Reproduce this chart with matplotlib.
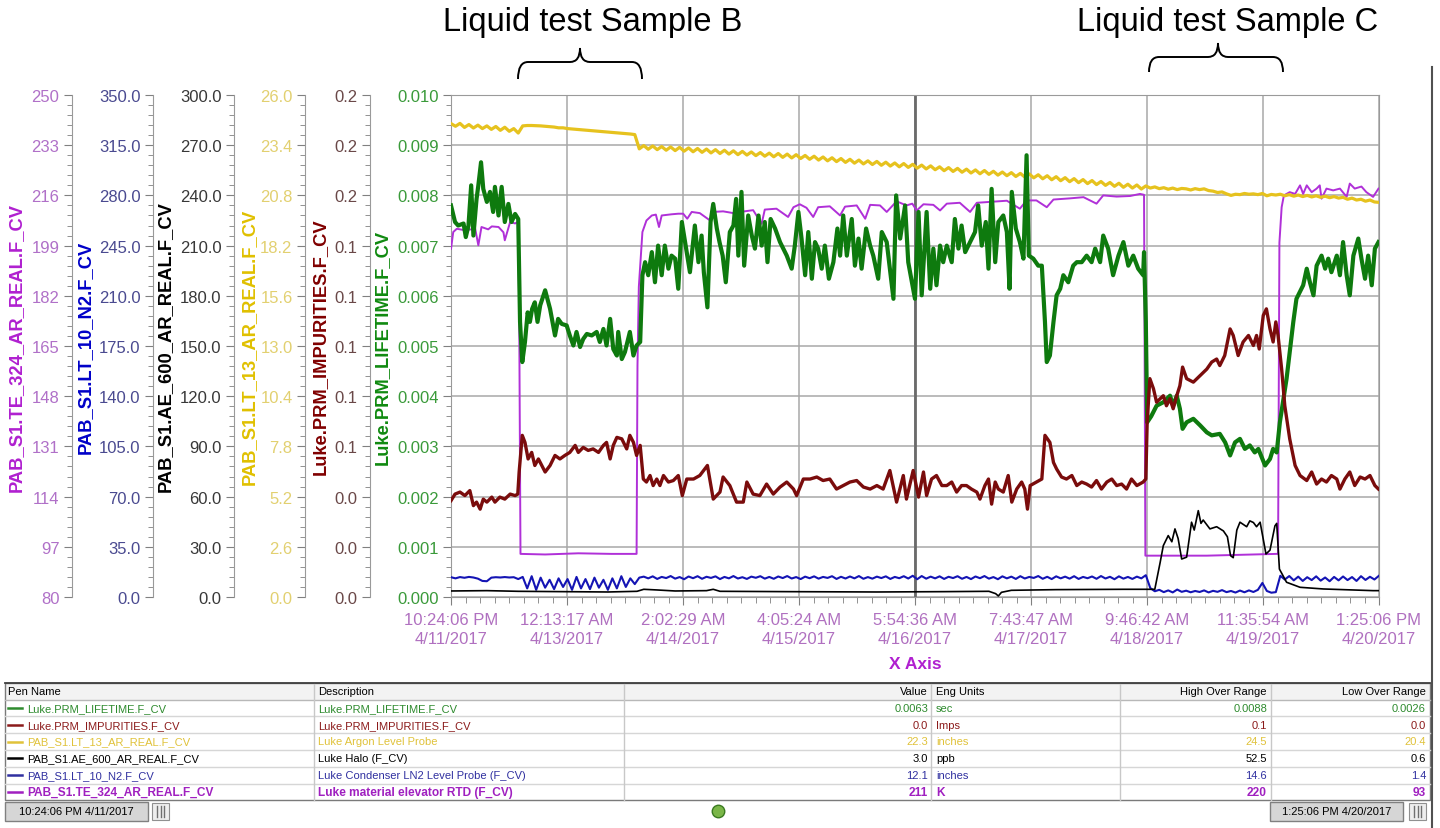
import numpy as np
import matplotlib.pyplot as plt
from matplotlib.ticker import LinearLocator, FormatStrFormatter, AutoMinorLocator
from matplotlib.path import Path
from matplotlib.patches import PathPatch, Rectangle
from matplotlib.lines import Line2D

plt.rcParams['font.family'] = ['Liberation Sans', 'DejaVu Sans']

# ---- data (time in hours since 10:24:06 PM 4/11/2017) ----
T_END = 207.0167
time_labels = ["10:24:06 PM\n4/11/2017", "12:13:17 AM\n4/13/2017", "2:02:29 AM\n4/14/2017",
               "4:05:24 AM\n4/15/2017", "5:54:36 AM\n4/16/2017", "7:43:47 AM\n4/17/2017",
               "9:46:42 AM\n4/18/2017", "11:35:54 AM\n4/19/2017", "1:25:06 PM\n4/20/2017"]

# Luke.PRM_LIFETIME (ms)
lifetime_pts = [
    (0, 7.80), (0.9, 7.47), (1.6, 7.40), (2.8, 7.44), (3.3, 7.17), (3.9, 7.40), (4.5, 8.20), (5.0, 7.20),
    (5.7, 7.93), (6.1, 8.20), (6.7, 8.66), (7.2, 8.13), (8.0, 7.87), (8.7, 8.07), (9.4, 7.67), (9.8, 8.17),
    (10.6, 7.60), (11.3, 8.17), (12.0, 7.47), (12.8, 7.83), (13.5, 7.47), (14.3, 7.63), (15.0, 7.53),
    (15.4, 5.48), (15.9, 4.68), (16.5, 5.08), (17.1, 5.67), (17.6, 5.48), (18.1, 5.74), (18.7, 5.87),
    (19.3, 5.48), (19.9, 5.81), (21.0, 6.11), (22.1, 5.74), (23.2, 5.21), (23.9, 5.54), (24.7, 5.44),
    (25.8, 5.41), (26.5, 5.21), (27.3, 5.01), (28.0, 5.28), (28.8, 4.98), (29.5, 5.14), (30.3, 5.24),
    (31.4, 5.21), (32.5, 5.28), (33.2, 5.08), (34.0, 5.34), (34.7, 5.01), (35.5, 5.54), (36.2, 4.94),
    (37.0, 4.81), (37.3, 5.28), (38.1, 4.74), (38.8, 4.88), (39.9, 5.28), (40.7, 4.81), (41.4, 5.01),
    (42.2, 5.08), (42.7, 6.41), (43.3, 6.67), (44.0, 6.41), (44.8, 6.87), (45.5, 6.27), (46.2, 7.00),
    (47.0, 6.41), (47.7, 7.00), (48.5, 6.54), (49.2, 6.80), (50.0, 6.74), (50.7, 6.14), (51.5, 7.47),
    (53.3, 6.47), (54.4, 7.40), (55.2, 6.67), (55.9, 7.20), (56.4, 6.47), (57.2, 5.77), (57.9, 7.47),
    (58.5, 7.83), (59.3, 7.34), (59.9, 7.07), (60.6, 6.80), (61.3, 6.27), (62.2, 7.27), (63.0, 7.40),
    (63.6, 7.93), (64.1, 6.80), (64.8, 8.07), (65.4, 6.60), (66.3, 7.60), (67.1, 7.20), (67.8, 6.94),
    (68.6, 7.60), (69.3, 7.00), (70.0, 7.47), (70.6, 6.67), (71.3, 7.53), (72.3, 7.34), (73.4, 7.07),
    (74.9, 6.80), (76.0, 6.54), (76.7, 7.00), (77.5, 7.67), (78.2, 7.14), (79.0, 6.41), (79.7, 7.27),
    (80.5, 6.34), (81.2, 7.07), (81.9, 6.94), (82.7, 6.54), (83.4, 7.00), (84.3, 6.34), (85.3, 6.67),
    (86.2, 7.34), (86.8, 6.80), (87.5, 7.60), (88.3, 6.80), (89.4, 7.53), (90.1, 6.60), (90.9, 7.14),
    (91.6, 6.54), (92.6, 7.34), (93.5, 7.00), (94.2, 6.80), (95.3, 6.34), (96.1, 7.27), (97.2, 7.07),
    (98.7, 5.94), (99.3, 8.00), (100.2, 7.14), (101.3, 7.80), (102.0, 6.67), (103.5, 5.94), (104.3, 7.67),
    (105.0, 6.01), (106.1, 7.67), (106.9, 6.14), (107.6, 6.94), (108.3, 6.21), (109.1, 7.00), (109.8, 6.67),
    (110.6, 7.00), (111.7, 6.67), (112.4, 7.53), (113.2, 6.94), (113.9, 7.40), (114.7, 6.87), (115.8, 7.07),
    (116.9, 7.27), (117.6, 7.80), (118.4, 7.00), (119.3, 7.47), (119.9, 6.54), (120.6, 8.13), (121.4, 6.67),
    (122.1, 7.47), (123.2, 7.60), (124.0, 7.27), (124.6, 6.14), (125.1, 8.07), (126.0, 7.34), (126.9, 7.07),
    (127.7, 6.74), (128.4, 8.80), (128.9, 6.80), (129.9, 6.74), (131.0, 6.60), (131.8, 6.60), (132.5, 5.48),
    (132.9, 4.68), (133.6, 4.81), (134.4, 5.48), (135.1, 6.01), (135.9, 6.14), (136.6, 6.41), (137.7, 6.27),
    (138.8, 6.60), (139.6, 6.67), (140.7, 6.67), (141.8, 6.80), (142.9, 6.67), (143.7, 6.94), (144.8, 6.67),
    (145.5, 7.20), (146.6, 6.94), (147.7, 6.41), (148.9, 6.80), (150.0, 7.07), (151.1, 6.60), (152.2, 6.80),
    (153.3, 6.54), (154.4, 6.41), (154.6, 6.87), (155.0, 5.48), (155.3, 3.48), (156.2, 3.60), (157.4, 3.81),
    (158.9, 3.88), (160.4, 4.01), (161.1, 3.81), (161.9, 4.01), (162.6, 3.75), (163.2, 3.35), (164.1, 3.48),
    (165.6, 3.55), (167.1, 3.42), (168.6, 3.28), (169.7, 3.22), (171.5, 3.25), (172.7, 3.08), (173.8, 2.82),
    (174.9, 3.08), (176.0, 3.15), (177.1, 2.95), (178.2, 3.02), (179.3, 2.88), (180.1, 2.95), (181.6, 2.62),
    (182.7, 2.75), (183.4, 2.95), (184.2, 2.88), (184.9, 3.48), (186.4, 4.35), (187.9, 5.48), (188.6, 5.94),
    (190.1, 6.21), (190.9, 6.54), (191.6, 6.27), (192.4, 6.01), (193.1, 6.60), (194.2, 6.80), (195.0, 6.54),
    (195.7, 6.74), (196.4, 6.47), (197.6, 6.80), (198.3, 6.41), (199.0, 7.07), (199.8, 6.41), (200.5, 6.01),
    (201.3, 6.80), (202.4, 7.14), (203.1, 6.74), (203.9, 6.34), (204.6, 6.80), (205.4, 6.21), (206.1, 6.94),
    (206.9, 7.07)]

# Luke.PRM_IMPURITIES (imps)
impurity_pts = [
    (0, .0384), (0.9, .0410), (2.0, .0418), (3.1, .0404), (4.2, .0424), (5.0, .0364), (5.7, .0378),
    (6.5, .0350), (7.2, .0390), (8.0, .0378), (9.1, .0398), (9.8, .0378), (10.9, .0398), (12.0, .0390),
    (13.2, .0410), (14.3, .0404), (14.9, .0410), (15.2, .0498), (15.9, .0644), (16.5, .0616), (17.2, .0550),
    (18.0, .0576), (18.7, .0524), (19.5, .0550), (21.0, .0498), (22.1, .0524), (23.2, .0564), (24.3, .0550),
    (25.4, .0564), (26.5, .0576), (27.7, .0604), (28.4, .0576), (29.5, .0596), (30.6, .0584), (31.7, .0590),
    (32.9, .0576), (34.0, .0604), (34.7, .0616), (35.5, .0550), (36.2, .0604), (37.0, .0636), (38.1, .0630),
    (39.2, .0590), (39.9, .0644), (40.7, .0616), (41.4, .0564), (42.2, .0604), (42.9, .0470), (43.6, .0458),
    (44.4, .0484), (45.1, .0444), (45.9, .0470), (46.6, .0444), (47.4, .0484), (48.5, .0458), (49.6, .0464),
    (50.7, .0484), (51.6, .0404), (52.6, .0470), (54.1, .0470), (55.5, .0484), (57.2, .0524), (58.5, .0390),
    (60.0, .0418), (60.7, .0478), (62.2, .0444), (63.7, .0378), (65.2, .0378), (66.0, .0458), (67.4, .0410),
    (68.9, .0404), (70.4, .0450), (71.9, .0410), (73.4, .0438), (74.9, .0458), (76.4, .0430), (77.1, .0404),
    (78.6, .0470), (80.1, .0470), (81.6, .0478), (83.0, .0464), (84.5, .0470), (86.0, .0430), (87.5, .0444),
    (89.0, .0458), (90.5, .0464), (92.0, .0438), (93.5, .0430), (95.0, .0444), (96.4, .0430), (97.9, .0504),
    (99.4, .0378), (100.9, .0484), (101.6, .0390), (103.1, .0504), (104.3, .0398), (105.4, .0498),
    (106.1, .0404), (107.2, .0470), (108.3, .0484), (109.5, .0444), (110.6, .0444), (111.7, .0458),
    (112.8, .0418), (113.9, .0444), (115.0, .0444), (116.1, .0430), (117.3, .0418), (118.0, .0390),
    (119.1, .0444), (119.9, .0470), (120.6, .0370), (121.4, .0458), (122.1, .0430), (123.2, .0418),
    (124.3, .0484), (125.1, .0378), (126.2, .0430), (127.3, .0458), (128.0, .0430), (128.6, .0350),
    (129.2, .0444), (130.6, .0458), (131.8, .0470), (132.5, .0644), (133.6, .0616), (134.4, .0536),
    (135.1, .0510), (136.2, .0478), (137.3, .0470), (138.5, .0484), (139.6, .0444), (140.7, .0458),
    (141.8, .0450), (142.9, .0438), (144.0, .0464), (145.1, .0430), (146.3, .0458), (147.4, .0470),
    (148.5, .0444), (149.6, .0450), (150.7, .0430), (151.8, .0470), (153.0, .0444), (154.4, .0458),
    (155.0, .0470), (155.3, .0696), (155.9, .0870), (156.7, .0830), (157.4, .0776), (158.2, .0790),
    (158.9, .0802), (159.6, .0762), (160.4, .0790), (161.1, .0750), (161.9, .0802), (162.6, .0842),
    (163.2, .0916), (164.1, .0870), (165.6, .0856), (167.1, .0882), (168.6, .0908), (169.7, .0936),
    (170.8, .0948), (171.5, .0922), (172.6, .0962), (173.8, .1068), (174.5, .1042), (175.6, .0962),
    (176.7, .1016), (177.9, .1042), (179.0, .1002), (179.7, .1042), (180.3, .0988), (181.2, .1122),
    (181.9, .1148), (182.7, .1068), (183.4, .1016), (184.0, .1096), (184.5, .1042), (185.3, .0908),
    (186.0, .0762), (187.1, .0630), (188.3, .0524), (189.4, .0484), (190.9, .0464), (192.0, .0498),
    (193.1, .0450), (194.2, .0470), (195.3, .0458), (196.4, .0484), (197.6, .0470), (198.3, .0430),
    (199.4, .0470), (200.5, .0498), (201.6, .0444), (202.8, .0478), (203.9, .0470), (205.0, .0484),
    (206.1, .0444), (206.9, .0430)]

# PAB_S1.LT_13_AR_REAL (inches), one reading per hour
argon_level = [
    24.52, 24.38, 24.53, 24.32, 24.47, 24.29, 24.44, 24.26, 24.40, 24.22, 24.37, 24.17, 24.33, 24.12, 24.26, 24.03,
    24.40, 24.42, 24.42, 24.41, 24.40, 24.38, 24.36, 24.34, 24.30, 24.30, 24.26, 24.24, 24.22, 24.20, 24.18, 24.16,
    24.14, 24.12, 24.10, 24.08, 24.06, 24.04, 24.02, 24.00, 23.98, 23.95,
    23.21, 23.38, 23.19, 23.36, 23.17, 23.33, 23.14, 23.31, 23.12, 23.29,
    23.09, 23.26, 23.06, 23.23, 23.03, 23.20, 23.00, 23.17, 22.97, 23.14,
    22.94, 23.11, 22.91, 23.08, 22.89, 23.05, 22.86, 23.02, 22.83, 22.99,
    22.80, 22.97, 22.77, 22.94, 22.74, 22.91, 22.71, 22.87, 22.67, 22.83,
    22.63, 22.79, 22.59, 22.75, 22.55, 22.71, 22.51, 22.67, 22.47, 22.63,
    22.43, 22.59, 22.40, 22.56, 22.36, 22.52, 22.32, 22.48, 22.28, 22.45,
    22.25, 22.41, 22.21, 22.37, 22.17, 22.33, 22.13, 22.28, 22.08, 22.24,
    22.04, 22.20, 22.00, 22.16, 21.96, 22.12, 21.92, 22.09, 21.89, 22.05,
    21.85, 22.01, 21.82, 21.98, 21.78, 21.94, 21.75, 21.91, 21.71, 21.87,
    21.66, 21.82, 21.61, 21.77, 21.56, 21.72, 21.51, 21.67, 21.46, 21.62,
    21.41, 21.57, 21.36, 21.52, 21.32, 21.47, 21.27, 21.43, 21.22, 21.38,
    21.18, 21.34, 21.13, 21.29,
    21.18, 21.24, 21.15, 21.20, 21.12, 21.18, 21.10, 21.16, 21.14, 21.08,
    21.15, 21.10, 21.14, 21.05, 21.02, 20.95, 20.98, 20.88, 20.80, 20.86,
    20.84, 20.90, 20.86, 20.88, 20.84, 20.90, 20.78, 20.85, 20.82, 20.86,
    20.78, 20.84, 20.76, 20.82, 20.74, 20.80, 20.72, 20.78, 20.70, 20.76,
    20.68, 20.74, 20.66, 20.70, 20.60, 20.66, 20.56, 20.60, 20.50, 20.56,
    20.46, 20.44]

# PAB_S1.LT_10_N2, one reading per hour
n2_level = [
    13.8, 13.0, 13.9, 13.4, 14.0, 13.6, 12.8, 11.2, 11.0, 13.5, 13.8, 13.6, 13.9, 13.6, 13.8, 12.5,
    14.0, 6.0, 14.5, 5.0, 13.5, 6.5, 12.0, 5.5, 13.0, 7.0, 12.5, 5.0, 14.0, 6.0, 12.5, 5.5,
    13.5, 6.5, 12.0, 5.0, 13.0, 6.0, 14.5, 7.0, 13.0, 9.0, 13.5,
    14.2, 13.0, 14.4, 12.6, 14.0, 13.2, 14.6, 12.8, 13.9, 12.4,
    14.3, 13.1, 14.5, 12.7, 14.1, 13.3, 14.4, 12.5, 14.0, 13.0,
    14.6, 12.9, 13.8, 12.6, 14.2, 13.4, 14.5, 12.8, 14.0, 12.7,
    14.3, 13.2, 14.6, 12.9, 13.9, 12.5, 14.2, 13.1, 14.4, 12.8,
    14.0, 13.3, 14.5, 12.6, 14.1, 12.9, 14.3, 13.0, 14.6, 12.7,
    13.9, 12.8, 14.2, 13.2, 14.4, 12.6, 14.0, 13.1, 14.5, 12.9,
    14.8, 12.4, 14.6, 12.8, 14.2, 13.0, 14.4, 12.6, 14.1, 13.2,
    14.5, 12.7, 14.0, 12.5, 14.3, 13.1, 14.6, 12.8, 13.9, 12.4,
    14.4, 13.0, 14.2, 12.6, 14.5, 12.9, 14.0, 13.3, 14.6, 12.7,
    14.1, 12.5, 14.4, 13.0, 14.2, 12.8, 14.5, 12.6, 14.0, 13.1,
    14.3, 12.7, 14.6, 12.9, 14.1, 12.4, 14.4, 12.8, 14.0, 12.6,
    14.2, 13.0, 15.2,
    6.2, 4.0, 5.0, 3.4, 4.6, 3.2, 5.2, 3.6, 4.4, 3.3, 4.2, 3.5, 4.6, 3.2, 4.3, 3.6,
    4.8, 3.4, 4.2, 3.1, 4.5, 3.3, 4.6, 3.5, 5.0, 9.8, 4.2, 3.0, 3.4, 14.8,
    12.2, 14.6, 11.6, 14.2, 11.2, 13.8, 11.8, 14.4, 11.4, 13.6, 11.0,
    14.0, 11.6, 14.3, 11.8, 13.9, 11.2, 14.5, 11.9, 14.1, 12.2, 14.8]

# PAB_S1.AE_600_AR_REAL (ppb)
halo_pts = [
    (0, 3.6), (8, 3.8), (15, 3.4), (25, 3.2), (35, 3.0), (41.5, 3.4), (43, 4.6), (46, 4.2), (50, 3.6),
    (57, 3.8), (58.5, 4.6), (60, 3.4), (75, 3.2), (95, 3.0), (110, 3.2), (120, 3.4), (121.5, 2.0),
    (122.1, 0.6), (122.8, 2.8), (125, 4.0), (135, 4.4), (150, 4.6), (157.0, 4.6), (158.2, 20.7),
    (158.9, 30.7), (160.0, 36.7), (160.8, 33.0), (161.5, 40.7), (162.2, 35.0), (163.0, 22.7), (164.1, 23.8),
    (165.2, 44.7), (165.8, 40.0), (166.7, 51.6), (167.3, 44.0), (167.8, 46.0), (169.3, 40.7), (170.8, 42.0),
    (172.3, 39.5), (173.2, 36.0), (173.9, 24.7), (174.5, 23.5), (175.3, 40.0), (176.0, 44.7), (177.5, 42.0),
    (178.2, 45.5), (179.0, 44.5), (179.7, 42.0), (180.5, 44.7), (181.8, 25.7), (182.7, 28.0), (183.8, 42.5),
    (184.2, 44.0), (184.8, 16.7), (186.4, 8.8), (189.4, 5.8), (194.6, 4.8), (205.7, 3.8), (207.0, 3.8)]

# PAB_S1.TE_324_AR_REAL (K)
rtd_pts = [
    (0, 197.9), (0.5, 203.6), (1.3, 204.7), (3.1, 204.2), (5.4, 204.7), (6.1, 199.1), (6.8, 205.3),
    (8.3, 204.5), (9.1, 205.5), (10.6, 205.3), (11.7, 203.5), (12.0, 200.8), (13.2, 207.0), (14.3, 206.5),
    (14.9, 207.0), (15.2, 180.0), (15.5, 94.6), (21.0, 94.4), (28.4, 94.8), (35.8, 94.6), (41.4, 94.6),
    (41.6, 158.4), (41.9, 185.0), (42.7, 203.6), (43.6, 207.5), (44.8, 209.2), (45.7, 209.5), (46.4, 205.3),
    (47.0, 209.2), (49.2, 209.6), (50.7, 209.8), (51.8, 209.8), (52.7, 208.1), (53.7, 210.4), (55.5, 210.0),
    (57.8, 207.5), (58.5, 210.4), (60.7, 210.6), (63.0, 210.0), (63.7, 206.4), (64.5, 210.4), (67.4, 211.0),
    (69.3, 206.4), (70.0, 211.2), (72.6, 211.5), (75.2, 208.7), (76.4, 212.0), (77.8, 213.0), (79.3, 211.8),
    (80.8, 208.7), (81.9, 212.0), (84.5, 212.3), (86.8, 209.2), (87.9, 212.2), (90.5, 212.6), (92.4, 208.1),
    (93.5, 212.8), (95.7, 212.6), (97.2, 210.4), (99.4, 214.0), (101.6, 212.6), (102.9, 213.2),
    (103.9, 210.9), (105.4, 213.0), (107.6, 212.8), (109.1, 210.9), (110.6, 213.2), (113.5, 213.5),
    (115.8, 210.4), (117.3, 213.5), (120.2, 213.8), (124.0, 214.2), (126.9, 211.5), (128.4, 214.3),
    (130.6, 214.3), (132.9, 212.0), (134.4, 214.6), (138.1, 215.0), (141.1, 215.4), (144.0, 213.2),
    (145.5, 216.0), (148.5, 215.6), (151.5, 215.8), (153.7, 216.5), (154.6, 216.2), (154.9, 94.0),
    (168.6, 94.0), (184.2, 94.6), (184.5, 94.6), (184.8, 200.0), (185.3, 212.0), (185.8, 216.0),
    (187.1, 217.1), (188.3, 216.5), (189.4, 219.4), (190.1, 216.5), (190.9, 219.4), (192.0, 217.1),
    (193.1, 218.3), (193.8, 219.4), (194.2, 214.9), (195.3, 218.3), (196.8, 217.7), (198.3, 218.3),
    (199.8, 215.5), (200.5, 220.0), (201.6, 218.3), (203.1, 219.0), (204.2, 217.1), (205.7, 215.5),
    (206.9, 218.3)]

# pen table
pen_names = ["Luke.PRM_LIFETIME.F_CV", "Luke.PRM_IMPURITIES.F_CV", "PAB_S1.LT_13_AR_REAL.F_CV",
             "PAB_S1.AE_600_AR_REAL.F_CV", "PAB_S1.LT_10_N2.F_CV", "PAB_S1.TE_324_AR_REAL.F_CV"]
descriptions = ["Luke.PRM_LIFETIME.F_CV", "Luke.PRM_IMPURITIES.F_CV", "Luke Argon Level Probe",
                "Luke Halo (F_CV)", "Luke Condenser LN2 Level Probe (F_CV)", "Luke material elevator RTD (F_CV)"]
pen_values = ["0.0063", "0.0", "22.3", "3.0", "12.1", "211"]
eng_units = ["sec", "Imps", "inches", "ppb", "inches", "K"]
high_over = ["0.0088", "0.1", "24.5", "52.5", "14.6", "220"]
low_over = ["0.0026", "0.0", "20.4", "0.6", "1.4", "93"]
table_colors = ["#2e8b2e", "#8b1a1a", "#e0c23a", "#000000", "#3030a0", "#a020c0"]

# ---- layout (pixels of the 1440x829 picture) ----
W, H = 1440, 829
PL, PR, PT, PB = 451, 1379, 96, 598

fig = plt.figure(figsize=(W / 100, H / 100), dpi=100)


def fx(x):
    return x / W


def fy(y):
    return 1 - y / H


def afrac(x):
    return (x - PL) / (PR - PL)


ax = fig.add_axes([fx(PL), fy(PB), (PR - PL) / W, (PB - PT) / H])
ax.set_xlim(0, T_END)
ax.set_ylim(0, 0.010)
xt = np.linspace(0, T_END, len(time_labels))
ax.set_xticks(xt)
ax.set_xticklabels(time_labels)
ax.xaxis.set_minor_locator(AutoMinorLocator(8))
ax.yaxis.set_major_locator(LinearLocator(11))
ax.yaxis.set_minor_locator(LinearLocator(51))
ax.yaxis.set_major_formatter(FormatStrFormatter('%.3f'))
ax.grid(True, which='major', color='#a8a8a8', lw=1.1)
ax.axvline(xt[4], color='#6a6a6a', lw=2.0)
for s in ax.spines.values():
    s.set_color('#9a9a9a')
ax.tick_params(axis='x', which='major', length=6, color='#808080', labelsize=12,
               labelcolor='#b070c0', pad=5)
ax.tick_params(axis='x', which='minor', length=4, color='#808080')
ax.tick_params(axis='y', which='major', length=6, color='#808080', labelsize=12,
               labelcolor='#3a9a3a', pad=3)
ax.tick_params(axis='y', which='minor', length=3.5, color='#808080')
for lbl in ax.get_xticklabels():
    lbl.set_linespacing(1.3)
ax.set_xlabel("X Axis", color='#b020d0', fontweight='bold', fontsize=12.5)
ax.xaxis.set_label_coords(0.5, -0.117)
ax.text(afrac(382.5), 0.5, "Luke.PRM_LIFETIME.F_CV", transform=ax.transAxes, rotation=90,
        ha='center', va='center', color='#108a10', fontsize=13.2, fontweight='bold')


def side_axis(spine_x, lo, hi, fmt, tick_col, label, label_col, label_x):
    a = ax.twinx()
    a.set_ylim(lo, hi)
    a.yaxis.tick_left()
    a.spines['left'].set_position(('axes', afrac(spine_x)))
    a.spines['left'].set_visible(True)
    a.spines['left'].set_color('#9a9a9a')
    for k in ('right', 'top', 'bottom'):
        a.spines[k].set_visible(False)
    a.yaxis.set_major_locator(LinearLocator(11))
    a.yaxis.set_minor_locator(LinearLocator(51))
    a.yaxis.set_major_formatter(FormatStrFormatter(fmt))
    a.tick_params(axis='y', which='major', length=6, color='#808080', labelsize=12,
                  labelcolor=tick_col, pad=3)
    a.tick_params(axis='y', which='minor', length=3.5, color='#808080')
    a.text(afrac(label_x), 0.5, label, transform=a.transAxes, rotation=90, ha='center',
           va='center', color=label_col, fontsize=13.2, fontweight='bold')
    return a


ax_rtd = side_axis(72, 80, 250, '%.0f', '#b070c8', "PAB_S1.TE_324_AR_REAL.F_CV", '#b020d0', 16.7)
ax_n2 = side_axis(153, 0, 350, '%.1f', '#4a4a90', "PAB_S1.LT_10_N2.F_CV", '#0000c8', 85)
ax_halo = side_axis(234, 0, 300, '%.1f', '#383838', "PAB_S1.AE_600_AR_REAL.F_CV", '#000000', 165.8)
ax_ar = side_axis(305, 0, 26, '%.1f', '#e2d070', "PAB_S1.LT_13_AR_REAL.F_CV", '#e0c000', 249.5)
ax_imp = side_axis(370, 0, 0.2, '%.1f', '#6a4848', "Luke.PRM_IMPURITIES.F_CV", '#800000', 320.8)


def plain_twin(lo, hi):
    a = ax.twinx()
    a.set_ylim(lo, hi)
    a.axis('off')
    return a


# draw order: black, blue, yellow, purple, green, maroon
t, v = zip(*halo_pts)
ax_halo.plot(t, v, color='black', lw=1.2)
ax_n2.plot(np.linspace(0, 207, len(n2_level)), n2_level, color='#1414b4', lw=1.5)
ax_ar.plot(np.linspace(0, 207, len(argon_level)), argon_level, color='#e6c21e', lw=2.3)
t, v = zip(*rtd_pts)
ax_rtd.plot(t, v, color='#b030d8', lw=1.4)
ax_life = plain_twin(0, 0.010)
t, v = zip(*lifetime_pts)
ax_life.plot(t, np.array(v) / 1000, color='#0e7a0e', lw=3.0)
ax_imp2 = plain_twin(0, 0.2)
t, v = zip(*impurity_pts)
ax_imp2.plot(t, v, color='#7a0c0c', lw=2.4)

# ---- annotations on top ----
fig.text(fx(593), fy(22), "Liquid test Sample B", ha='center', va='center', fontsize=23.5)
fig.text(fx(1228), fy(22), "Liquid test Sample C", ha='center', va='center', fontsize=23.5)


def brace(x0, x1, xm, y_end, y_mid, y_tip, r=10):
    pts = [(x0, y_end), (x0, y_mid), (x0 + r, y_mid), (xm - r, y_mid), (xm, y_mid), (xm, y_tip),
           (xm, y_mid), (xm + r, y_mid), (x1 - r, y_mid), (x1, y_mid), (x1, y_end)]
    codes = [Path.MOVETO, Path.CURVE3, Path.CURVE3, Path.LINETO, Path.CURVE3, Path.CURVE3,
             Path.CURVE3, Path.CURVE3, Path.LINETO, Path.CURVE3, Path.CURVE3]
    p = Path([(fx(x), fy(y)) for x, y in pts], codes)
    fig.patches.append(PathPatch(p, transform=fig.transFigure, fill=False, lw=1.4,
                                 edgecolor='black'))


brace(518, 642, 580, 80, 63, 49)
brace(1149, 1283, 1218, 73, 58, 44)

# right border of the window
fig.lines.append(Line2D([fx(1432), fx(1432)], [fy(68), fy(829)], transform=fig.transFigure,
                        color='#505050', lw=1.5))

# ---- pen table ----
TL, TR, TT = 5, 1430, 684
HEAD_B = 700.5
ROW_H = 16.8
n_rows = len(pen_names)
TB = HEAD_B + ROW_H * n_rows


def rect(x0, y0, x1, y1, **kw):
    fig.patches.append(Rectangle((fx(x0), fy(y1)), (x1 - x0) / W, (y1 - y0) / H,
                                 transform=fig.transFigure, **kw))


def hline(y, x0, x1, color, lw=1.0):
    fig.lines.append(Line2D([fx(x0), fx(x1)], [fy(y), fy(y)], transform=fig.transFigure,
                            color=color, lw=lw))


def vline(x, y0, y1, color, lw=1.0):
    fig.lines.append(Line2D([fx(x), fx(x)], [fy(y0), fy(y1)], transform=fig.transFigure,
                            color=color, lw=lw))


rect(TL, TT, TR, HEAD_B, facecolor='#f3f3f3', edgecolor='none')
for i in range(1, n_rows):
    hline(HEAD_B + ROW_H * i, TL, TR, '#d6d6d6')
hline(HEAD_B, TL, TR, '#b8b8b8')
for cx in (314, 624, 931, 1120, 1271):
    vline(cx, TT, TB, '#c8c8c8')
rect(TL, TT, TR, TB, facecolor='none', edgecolor='#7a7a7a', lw=1.0)
hline(TT, TL, TR, '#404040', lw=1.3)

hy = (TT + HEAD_B) / 2
head_kw = dict(fontsize=8, va='center', color='black')
fig.text(fx(8), fy(hy), "Pen Name", ha='left', **head_kw)
fig.text(fx(318), fy(hy), "Description", ha='left', **head_kw)
fig.text(fx(928), fy(hy), "Value", ha='right', **head_kw)
fig.text(fx(936), fy(hy), "Eng Units", ha='left', **head_kw)
fig.text(fx(1267), fy(hy), "High Over Range", ha='right', **head_kw)
fig.text(fx(1426), fy(hy), "Low Over Range", ha='right', **head_kw)

for i in range(n_rows):
    ry = HEAD_B + ROW_H * (i + 0.5)
    c = table_colors[i]
    bold = i == n_rows - 1
    kw = dict(fontsize=8.6 if bold else 8, va='center', color=c,
              fontweight='bold' if bold else 'normal')
    fig.lines.append(Line2D([fx(8), fx(22)], [fy(ry), fy(ry)], transform=fig.transFigure,
                            color=c, lw=1.8))
    fig.text(fx(27), fy(ry), pen_names[i], ha='left', **kw)
    fig.text(fx(318), fy(ry), descriptions[i], ha='left', **kw)
    fig.text(fx(928), fy(ry), pen_values[i], ha='right', **kw)
    fig.text(fx(936), fy(ry), eng_units[i], ha='left', **kw)
    fig.text(fx(1267), fy(ry), high_over[i], ha='right', **kw)
    fig.text(fx(1426), fy(ry), low_over[i], ha='right', **kw)

# ---- bottom time bar ----
rect(5, 803, 148, 822, facecolor='#d6d6d6', edgecolor='#808080', lw=1.0)
fig.text(fx(76.5), fy(812.5), "10:24:06 PM 4/11/2017", ha='center', va='center', fontsize=8)
rect(1270, 803, 1403, 822, facecolor='#d6d6d6', edgecolor='#808080', lw=1.0)
fig.text(fx(1336.5), fy(812.5), "1:25:06 PM 4/20/2017", ha='center', va='center', fontsize=8)
for ix in (152, 1409):
    rect(ix, 804, ix + 17, 821, facecolor='#eeeeee', edgecolor='#909090', lw=0.8)
    for k in range(3):
        vline(ix + 5 + k * 3.5, 807, 818, '#707070', lw=1.0)
fig.lines.append(Line2D([fx(718)], [fy(812)], transform=fig.transFigure, marker='o',
                        markersize=9, markerfacecolor='#7ab648', markeredgecolor='#3a7a20'))

fig.savefig("out.png", dpi=100)
